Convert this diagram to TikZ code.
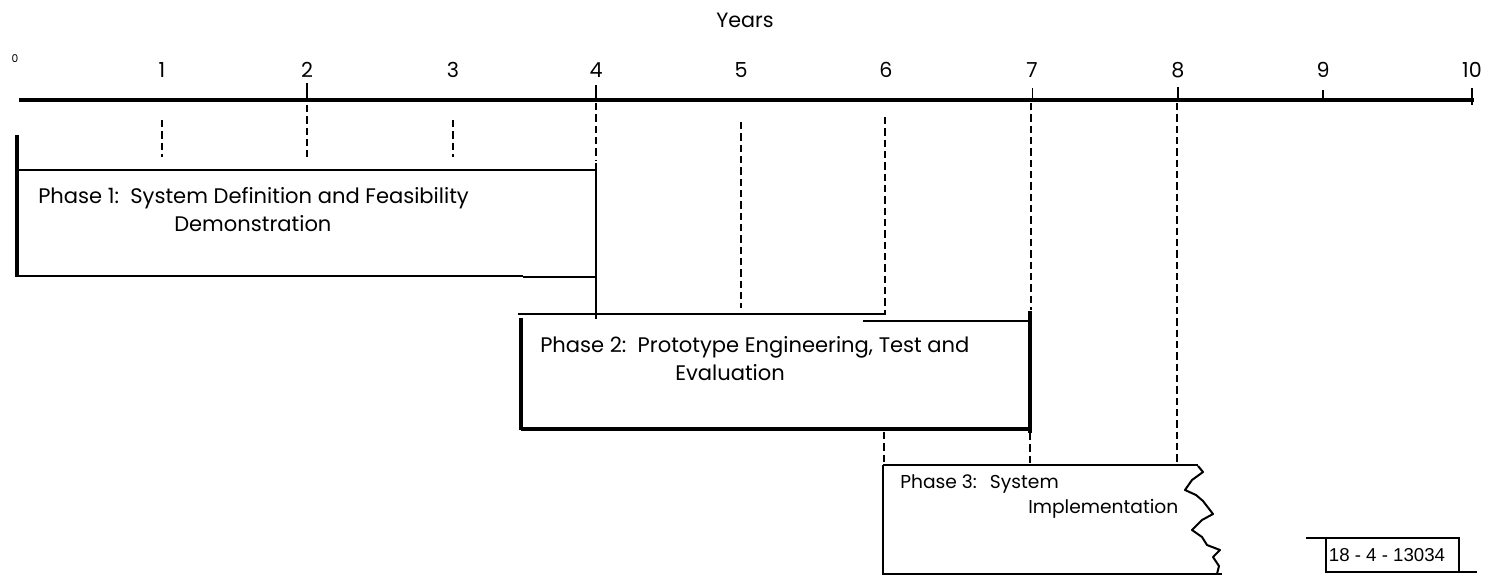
\documentclass[tikz,border=0pt]{standalone}
\usepackage{fontspec}
\setmainfont{Poppins}
\newfontfamily\labelfont{Liberation Sans}
\usepackage{tikz}

\begin{document}
\begin{tikzpicture}[x=0.75pt,y=0.75pt,yscale=-1,xscale=1,
  dashyr/.style={line width=2.1pt, dash pattern=on 5.5pt off 3pt},
  boxrule/.style={line width=2.2pt},
  phasetxt/.style={font=\fontsize{15.8}{18}\selectfont, inner sep=0pt, anchor=base west},
  yrtxt/.style={font=\fontsize{15.5}{18}\selectfont, inner sep=0pt}]
%set diagram left start at 0, and has height of 576
\path (0,0) rectangle (1489,576);

%Axis
\draw [line width=3.5pt] (19,100) -- (597,100) ;
\draw [line width=2.5pt] (596,100) -- (1474,100) ;
%Ticks above axis
\draw [line width=1.6pt] (307,83) -- (307,100) ;
\draw [line width=1.6pt] (596,85) -- (596,100) ;
\draw [line width=0.6pt] (1032,88) -- (1032,100) ;
\draw [line width=1.6pt] (1178,87) -- (1178,100) ;
\draw [line width=1.4pt] (1323,90) -- (1323,100) ;
\draw [line width=1.8pt] (1472,88) -- (1472,105) ;

% Text Node
\node [yrtxt] (years) at (745,20) {Years};
% Text Node
\node [yrtxt, font=\fontsize{8}{8}\selectfont] (yr0) at (15,59) {0};
\foreach \yr/\xx in {1/162,2/307,3/453,4/596,5/741,6/886,7/1032,8/1178,9/1323,10/1472}
  \node [yrtxt] (yr\yr) at (\xx,70) {\yr};

%Dashed year lines
\draw [dashyr] (162,120) -- (162,157) ;
\draw [dashyr] (307,105) -- (307,157) ;
\draw [dashyr] (453,120) -- (453,157) ;
\draw [dashyr] (596,103) -- (596,160) ;
\draw [dashyr] (741,122) -- (741,308) ;
\draw [dashyr] (885,117) -- (885,313) ;
\draw [dashyr] (1031,103) -- (1031,310) ;
\draw [dashyr] (1177,103) -- (1177,465) ;
\draw [dashyr] (884,432) -- (884,465) ;
\draw [dashyr] (1030,433) -- (1030,465) ;

%Shape: Phase 1 box
\draw [line width=2.6pt] (17,135) -- (17,277) ;
\draw [line width=1.7pt] (17,170) -- (596,170) ;
\draw [boxrule] (17,276) -- (523,276) ;
\draw [line width=0.8pt] (523,277) -- (596,277) ;
\draw [boxrule] (596,163) -- (596,319) ;

%Shape: Phase 2 box
\draw [line width=1.7pt] (518,314) -- (886,314) ;
\draw [line width=1.7pt] (863,321) -- (1030,321) ;
\draw [line width=2.7pt] (521,318) -- (521,430) ;
\draw [line width=2.7pt] (521,429) -- (1030,429) ;
\draw [line width=2.7pt] (1030,311) -- (1030,433) ;

%Shape: Phase 3 box
\draw [line width=1.3pt] (883,465) -- (1198,465) ;
\draw [line width=1.7pt] (883,465) -- (883,575) ;
\draw [line width=1.7pt] (883,574) -- (1222,574) ;
%Jagged edge
\draw [line width=1.5pt, line join=round] (1198,466) -- (1203,472) -- (1192,480) -- (1185,490) -- (1196,495) -- (1203,501) -- (1213,514) -- (1202,520) -- (1192,530) -- (1202,537) -- (1207,545) -- (1220,550) -- (1213,557) -- (1219,566) -- (1217,574) ;

% Text Node
\node [phasetxt] (ph1a) at (38,203) {Phase 1:\ \ System Definition and Feasibility};
\node [phasetxt] (ph1b) at (174,231) {Demonstration};
% Text Node
\node [phasetxt] (ph2a) at (540,352) {Phase 2:\ \ Prototype Engineering, Test and};
\node [phasetxt] (ph2b) at (675,380) {Evaluation};
% Text Node
\node [phasetxt, font=\fontsize{14}{16}\selectfont] (ph3a) at (900,488) {Phase 3:\ \ \,System};
\node [phasetxt, font=\fontsize{14}{16}\selectfont] (ph3b) at (1028,513) {Implementation};

%Figure number box
\draw [line width=1.2pt] (1306,538) -- (1459,538) -- (1459,572) ;
\draw [line width=1.4pt] (1326,538) -- (1326,572) -- (1477,572) ;
% Text Node
\node [font=\labelfont\fontsize{14}{15}\selectfont, inner sep=0pt] (fignum) at (1387,555) {18 - 4 - 13034};

\end{tikzpicture}
\end{document}
